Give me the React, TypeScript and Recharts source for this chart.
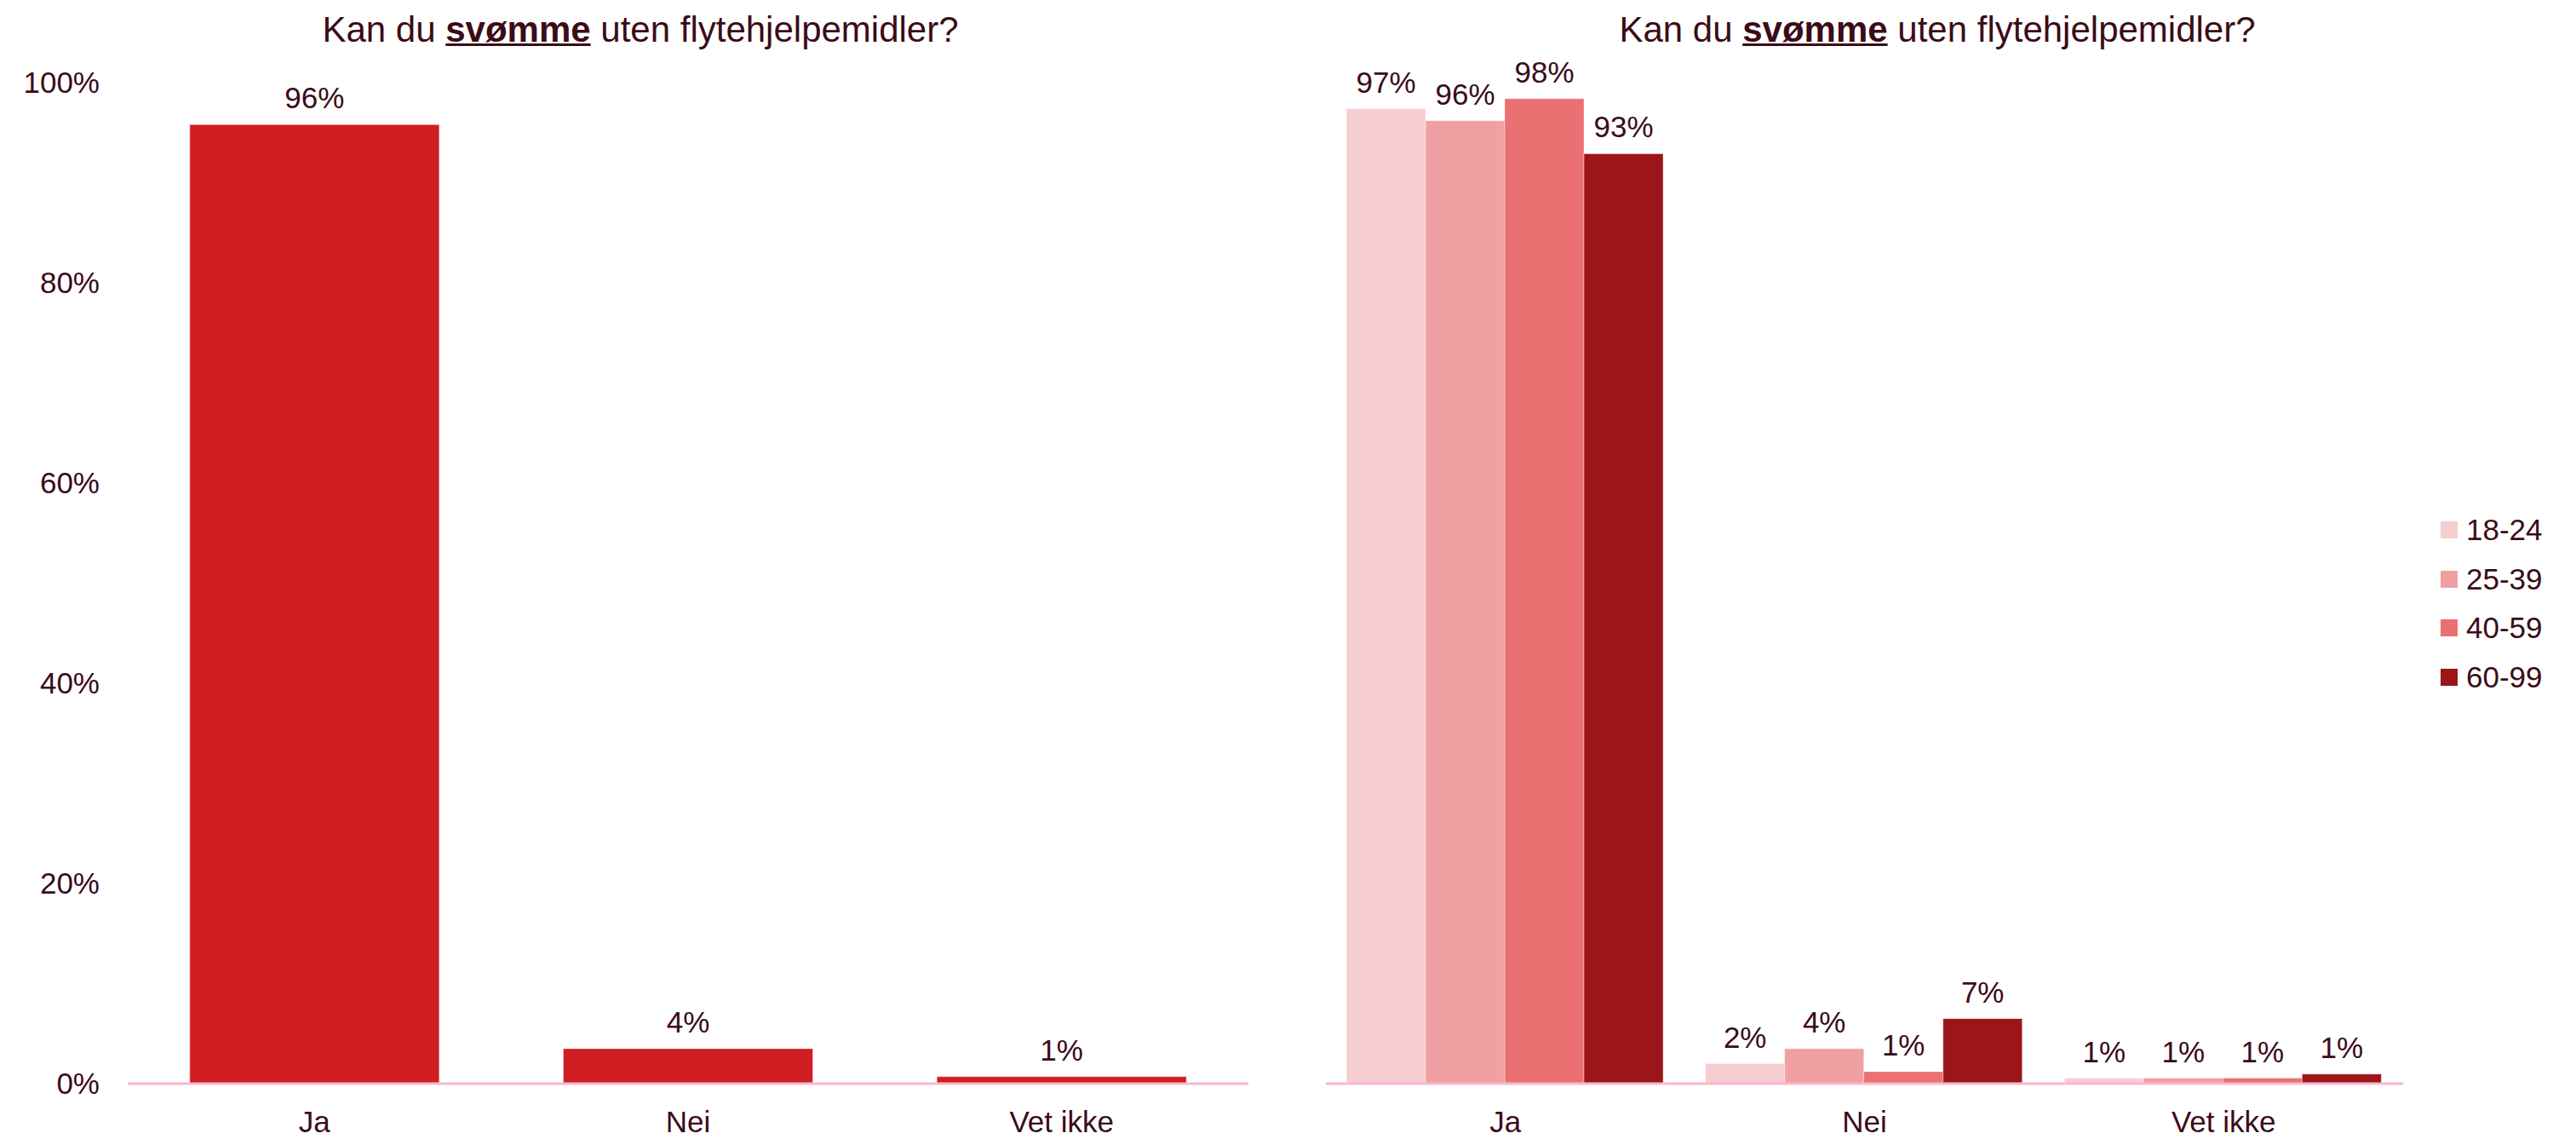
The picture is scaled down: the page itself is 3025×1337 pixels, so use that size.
import React from 'react';
import { BarChart, Bar, XAxis, YAxis, LabelList, Legend } from 'recharts';

const categories = ['Ja', 'Nei', 'Vet ikke'];
const totalValues = [95.8, 3.5, 0.7];
const ageGroups = ['18-24', '25-39', '40-59', '60-99'];
const values1824 = [97.4, 2.0, 0.55];
const values2539 = [96.2, 3.5, 0.55];
const values4059 = [98.4, 1.2, 0.55];
const values6099 = [92.9, 6.5, 0.95];
const yTicks = [0, 20, 40, 60, 80, 100];

const ageColors = ['#F6CED0', '#F09FA2', '#EA7072', '#9C1519'];
const TEXT = '#3B0C18';
const AXIS = '#F7B8D0';
const FONT = '"Liberation Sans", Arial, sans-serif';

const totalData = categories.map((c, i) => ({ category: c, value: totalValues[i] }));
const ageSeries = [values1824, values2539, values4059, values6099];
const ageData = categories.map((c, i) => {
  const row: any = { category: c };
  ageGroups.forEach((g, k) => {
    row[g] = ageSeries[k][i];
  });
  return row;
});

const pct = (v: any) => `${Math.round(Number(v))}%`;

const Title = ({ center }: { center: number }) => (
  <div
    style={{
      position: 'absolute',
      left: center - 600,
      width: 1200,
      top: 14,
      textAlign: 'center',
      fontFamily: FONT,
      fontSize: 42,
      lineHeight: '42px',
      color: TEXT,
      whiteSpace: 'nowrap',
    }}
  >
    Kan du{' '}
    <span
      style={{
        fontWeight: 'bold',
        textDecoration: 'underline',
        textDecorationThickness: '3px',
        textUnderlineOffset: '2px',
      }}
    >
      svømme
    </span>{' '}
    uten flytehjelpemidler?
  </div>
);

const LegendContent = (props: any) => {
  const payload = props.payload || [];
  return (
    <div style={{ fontFamily: FONT, fontSize: 35, color: TEXT }}>
      {payload.map((p: any) => (
        <div key={p.value} style={{ height: 57.7, display: 'flex', alignItems: 'center' }}>
          <div style={{ width: 20, height: 20, background: p.color, marginRight: 10 }} />
          <span>{p.value}</span>
        </div>
      ))}
    </div>
  );
};

export default function App() {
  const tickStyle = { fill: TEXT, fontSize: 35, fontFamily: FONT };
  const labelStyle = { fill: TEXT, fontSize: 35, fontFamily: FONT };
  return (
    <div style={{ position: 'relative', width: 3025, height: 1337, background: '#fff' }}>
      <style>{`body{margin:0;}`}</style>
      <Title center={752} />
      <Title center={2275} />
      <div style={{ position: 'absolute', left: 0, top: 0 }}>
        <BarChart
          width={1500}
          height={1337}
          data={totalData}
          margin={{ top: 97, right: 34, bottom: 0, left: 0 }}
          barCategoryGap="16.6%"
        >
          <XAxis
            dataKey="category"
            height={65}
            tickLine={false}
            tickSize={0}
            tickMargin={32}
            axisLine={{ stroke: AXIS, strokeWidth: 3 }}
            tick={tickStyle}
          />
          <YAxis
            width={150}
            domain={[0, 100]}
            ticks={yTicks}
            tickFormatter={(v: number) => `${v}%`}
            axisLine={false}
            tickLine={false}
            tickSize={0}
            tickMargin={33}
            tick={tickStyle}
          />
          <Bar dataKey="value" fill="#D01F22" stroke="#ffffff" strokeOpacity={0.4} strokeWidth={1} isAnimationActive={false}>
            <LabelList dataKey="value" position="top" offset={19} formatter={pct} style={labelStyle} />
          </Bar>
        </BarChart>
      </div>
      <div style={{ position: 'absolute', left: 1500, top: 0 }}>
        <BarChart
          width={1525}
          height={1337}
          data={ageData}
          margin={{ top: 97, right: 203, bottom: 0, left: 57 }}
          barCategoryGap="5.7%"
          barGap={0}
        >
          <XAxis
            dataKey="category"
            height={65}
            tickLine={false}
            tickSize={0}
            tickMargin={32}
            axisLine={{ stroke: AXIS, strokeWidth: 3 }}
            tick={tickStyle}
          />
          <YAxis hide domain={[0, 100]} ticks={yTicks} />
          <Legend
            layout="horizontal"
            verticalAlign="middle"
            align="center"
            content={<LegendContent />}
            wrapperStyle={{ left: 1366, top: 593, width: 150 }}
          />
          {ageGroups.map((g, k) => (
            <Bar
              key={g}
              dataKey={g}
              name={g}
              fill={ageColors[k]}
              stroke="#ffffff"
              strokeOpacity={0.4}
              strokeWidth={1}
              isAnimationActive={false}
            >
              <LabelList dataKey={g} position="top" offset={19} formatter={pct} style={labelStyle} />
            </Bar>
          ))}
        </BarChart>
      </div>
    </div>
  );
}
